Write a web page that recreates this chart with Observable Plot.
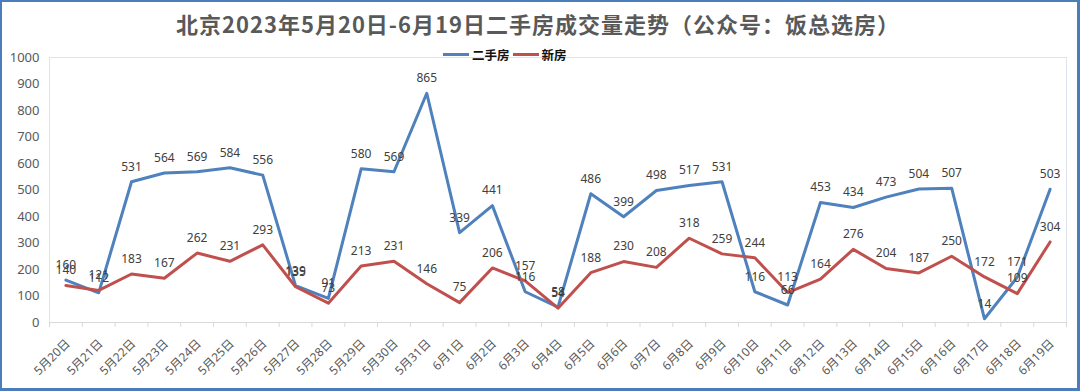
<!DOCTYPE html>
<html>
<head>
<meta charset="utf-8">
<script src="https://cdn.jsdelivr.net/npm/d3@7"></script>
<script src="https://cdn.jsdelivr.net/npm/@observablehq/plot@0.6"></script>
<style>
  html, body { margin: 0; padding: 0; background: #fff; }
  #wrap { position: relative; width: 1080px; height: 391px; overflow: hidden; background: #fff;
          font-family: "Noto Sans CJK SC", "Noto Sans", sans-serif; }
  #title { position: absolute; left: 176px; top: 7px; white-space: nowrap;
           font-size: 22px; font-weight: bold; color: #595959; letter-spacing: 1px; }
  #legend { position: absolute; left: 443px; top: 45px; height: 18px; display: flex; align-items: center;
            font-size: 12.5px; font-weight: bold; color: #111; }
  #legend .sw { width: 26px; height: 3px; margin-right: 3px; }
  #legend .lab { margin-right: 3px; }
  #chart { position: absolute; left: 0; top: 0; }
  #border { position: absolute; left: 0; top: 0; width: 1080px; height: 391px; box-sizing: border-box;
            border: 2px solid #4a7ebb; border-bottom-width: 3px; border-right-width: 3px; pointer-events: none; }
</style>
</head>
<body>
<div id="wrap">
  <div id="chart"></div>
  <div id="title">北京2023年5月20日-6月19日二手房成交量走势（公众号：饭总选房）</div>
  <div id="legend"></div>
  <div id="border"></div>
</div>
<script>
const dates = ["5月20日","5月21日","5月22日","5月23日","5月24日","5月25日","5月26日","5月27日","5月28日","5月29日","5月30日","5月31日",
  "6月1日","6月2日","6月3日","6月4日","6月5日","6月6日","6月7日","6月8日","6月9日","6月10日","6月11日","6月12日","6月13日","6月14日","6月15日","6月16日","6月17日","6月18日","6月19日"];
const resale = [160,112,531,564,569,584,556,139,91,580,569,865,339,441,116,58,486,399,498,517,531,116,66,453,434,473,504,507,14,171,503];
const newHome = [140,121,183,167,262,231,293,135,73,213,231,146,75,206,157,54,188,230,208,318,259,244,113,164,276,204,187,250,172,109,304];
const seriesNames = ["二手房","新房"];
const colors = ["#4f81bd","#c0504d"];
const yTicks = [0,100,200,300,400,500,600,700,800,900,1000];

const rows = [];
dates.forEach((d, i) => {
  rows.push({i, date: d, series: seriesNames[0], value: resale[i]});
  rows.push({i, date: d, series: seriesNames[1], value: newHome[i]});
});
const idx = d3.range(dates.length);
const bounds = d3.range(dates.length + 1).map(i => i - 0.5);

const plot = Plot.plot({
  width: 1080,
  height: 391,
  marginLeft: 49,
  marginRight: 14,
  marginTop: 57,
  marginBottom: 69,
  style: {fontFamily: "'Noto Sans', 'Noto Sans CJK SC', sans-serif", background: "transparent"},
  x: {type: "linear", domain: [-0.5, dates.length - 0.5]},
  y: {domain: [0, 1000]},
  color: {domain: seriesNames, range: colors},
  marks: [
    Plot.frame({stroke: "#dde4f0"}),
    Plot.ruleY([0], {stroke: "#d9d9d9"}),
    Plot.axisY({ticks: yTicks, tickSize: 0, tickPadding: 10, tickFormat: d => String(d), fontSize: 13, fill: "#595959", label: null}),
    Plot.axisX({ticks: bounds, tickSize: 5, stroke: "#d9d9d9", tickFormat: () => "", label: null}),
    Plot.axisX({ticks: idx, tickSize: 0, tickPadding: 19, dx: 2, tickRotate: -45, tickFormat: i => dates[i],
                fontSize: 12, fill: "#595959", label: null}),
    Plot.line(rows, {x: "i", y: "value", z: "series", stroke: "series", strokeWidth: 3, curve: "linear"}),
    Plot.text(rows, {x: "i", y: "value", text: d => String(d.value), dy: -15, fontSize: 12, fill: "#404040"})
  ]
});
document.getElementById("chart").appendChild(plot);

const legend = document.getElementById("legend");
seriesNames.forEach((name, k) => {
  const sw = document.createElement("div");
  sw.className = "sw";
  sw.style.background = colors[k];
  const lab = document.createElement("div");
  lab.className = "lab";
  lab.textContent = name;
  legend.appendChild(sw);
  legend.appendChild(lab);
});
</script>
</body>
</html>
